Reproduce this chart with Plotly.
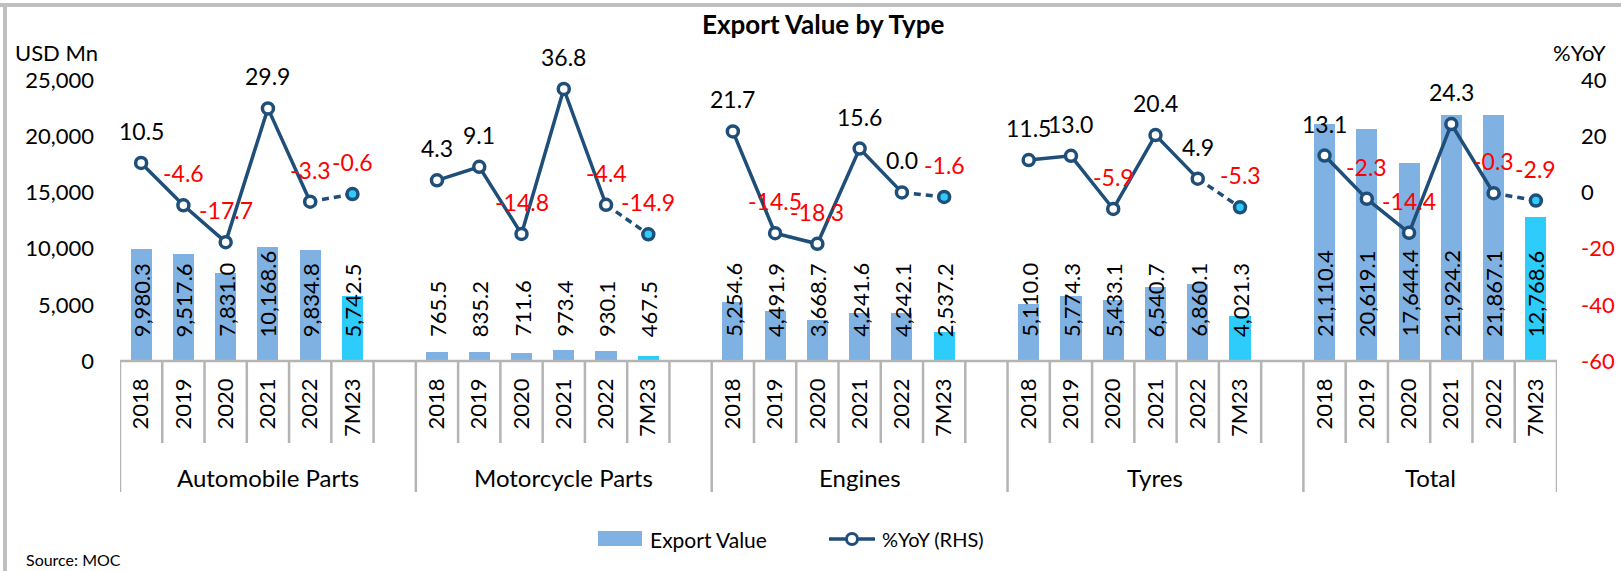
import plotly.graph_objects as go

# ---------------- data ----------------
groups = ["Automobile Parts", "Motorcycle Parts", "Engines", "Tyres", "Total"]
periods = ["2018", "2019", "2020", "2021", "2022", "7M23"]

auto_value = [9980.3, 9517.6, 7831.0, 10168.6, 9834.8, 5742.5]
moto_value = [765.5, 835.2, 711.6, 973.4, 930.1, 467.5]
engine_value = [5254.6, 4491.9, 3668.7, 4241.6, 4242.1, 2537.2]
tyre_value = [5110.0, 5774.3, 5433.1, 6540.7, 6860.1, 4021.3]
total_value = [21110.4, 20619.1, 17644.4, 21924.2, 21867.1, 12768.6]

auto_yoy = [10.5, -4.6, -17.7, 29.9, -3.3, -0.6]
moto_yoy = [4.3, 9.1, -14.8, 36.8, -4.4, -14.9]
engine_yoy = [21.7, -14.5, -18.3, 15.6, 0.0, -1.6]
tyre_yoy = [11.5, 13.0, -5.9, 20.4, 4.9, -5.3]
total_yoy = [13.1, -2.3, -14.4, 24.3, -0.3, -2.9]

export_values = [auto_value, moto_value, engine_value, tyre_value, total_value]
yoy_values = [auto_yoy, moto_yoy, engine_yoy, tyre_yoy, total_yoy]

left_ticks = [0, 5000, 10000, 15000, 20000, 25000]
right_ticks = [-60, -40, -20, 0, 20, 40]

# ---------------- styling / layout constants ----------------
FONT = "Lato, Carlito, 'Open Sans', sans-serif"
BAR_COLOR = "#80B1E3"
BAR_LAST = "#2DCCFB"
LINE_COLOR = "#1F4E79"
RED = "#FF0000"
FRAME_GRAY = "#BFBFBF"
SEP_GRAY = "#B4B4B4"

W, H = 1621, 571
L, R, T, B = 120, 1557, 80, 361  # plot area in pixels
SLOTS = 7  # 6 periods + one gap per group


def px(xp):
    return (xp - L) / (R - L)


def py(yp):
    return (B - yp) / (B - T)


# positions on the category axis
xs = []
for g in range(len(groups)):
    for i in range(len(periods)):
        xs.append(SLOTS * g + i)

bar_y = [v for grp in export_values for v in grp]
bar_colors = [BAR_LAST if i == len(periods) - 1 else BAR_COLOR
              for g in range(len(groups)) for i in range(len(periods))]
yoy_y = [v for grp in yoy_values for v in grp]

fig = go.Figure()

fig.add_trace(go.Bar(
    x=xs, y=bar_y, width=0.5, marker=dict(color=bar_colors, line=dict(width=0)),
    showlegend=False, hoverinfo="skip", yaxis="y"))

# solid line segments (2018-2022) and dashed segment to 7M23
sx, sy, dx, dy = [], [], [], []
for g in range(len(groups)):
    for i in range(5):
        sx.append(SLOTS * g + i)
        sy.append(yoy_values[g][i])
    sx.append(None); sy.append(None)
    dx += [SLOTS * g + 4, SLOTS * g + 5, None]
    dy += [yoy_values[g][4], yoy_values[g][5], None]

fig.add_trace(go.Scatter(x=sx, y=sy, mode="lines", yaxis="y2",
                         line=dict(color=LINE_COLOR, width=3.5),
                         showlegend=False, hoverinfo="skip"))
fig.add_trace(go.Scatter(x=dx, y=dy, mode="lines", yaxis="y2",
                         line=dict(color=LINE_COLOR, width=3.5, dash="7px,5px"),
                         showlegend=False, hoverinfo="skip"))
marker_fill = [BAR_LAST if i == len(periods) - 1 else "white"
               for g in range(len(groups)) for i in range(len(periods))]
fig.add_trace(go.Scatter(x=xs, y=yoy_y, mode="markers", yaxis="y2",
                         marker=dict(size=11, color=marker_fill,
                                     line=dict(color=LINE_COLOR, width=3.5)),
                         showlegend=False, hoverinfo="skip"))

annotations = []
# YoY labels
for x, v in zip(xs, yoy_y):
    annotations.append(dict(
        x=x, y=v, xref="x", yref="y2", text=f"{v:.1f}", showarrow=False,
        xanchor="center", yanchor="middle",
        yshift=32, font=dict(family=FONT, size=23, color="black" if v >= 0 else RED)))
# Bar value labels (rotated, inside base)
for x, v in zip(xs, bar_y):
    annotations.append(dict(
        x=x, y=0, xref="x", yref="y", text=f"{v:,.1f}", showarrow=False,
        textangle=-90, yanchor="bottom", xanchor="center", yshift=22,
        font=dict(family=FONT, size=22, color="black")))
# group labels
for g, name in enumerate(groups):
    n_in = SLOTS if g < len(groups) - 1 else len(periods)
    cx = SLOTS * g - 0.5 + n_in / 2
    annotations.append(dict(
        x=cx, y=py(477), xref="x", yref="paper", text=name, showarrow=False,
        xanchor="center", yanchor="middle",
        font=dict(family=FONT, size=24, color="black")))

# title and axis titles, source, legend texts
annotations += [
    dict(x=px(823), y=py(24), xref="paper", yref="paper", text="<b>Export Value by Type</b>",
         xanchor="center", yanchor="middle",
         showarrow=False, font=dict(family=FONT, size=26, color="black")),
    dict(x=px(13), y=py(53), xref="paper", yref="paper", text="USD Mn",
         xanchor="left", yanchor="middle",
         showarrow=False, font=dict(family=FONT, size=22, color="black")),
    dict(x=px(1608), y=py(53), xref="paper", yref="paper", text="%YoY",
         xanchor="right", yanchor="middle",
         showarrow=False, font=dict(family=FONT, size=22, color="black")),
    dict(x=px(24), y=py(559), xref="paper", yref="paper", text="Source: MOC",
         xanchor="left", yanchor="middle",
         showarrow=False, font=dict(family=FONT, size=16, color="black")),
    dict(x=px(648), y=py(539), xref="paper", yref="paper", text="Export Value",
         xanchor="left", yanchor="middle",
         showarrow=False, font=dict(family=FONT, size=21, color="black")),
    dict(x=px(880), y=py(539), xref="paper", yref="paper", text="%YoY (RHS)",
         xanchor="left", yanchor="middle",
         showarrow=False, font=dict(family=FONT, size=20, color="black")),
]

shapes = []
# frame (top and left)
shapes.append(dict(type="line", xref="paper", yref="paper", x0=px(0), x1=px(W),
                   y0=py(5), y1=py(5), line=dict(color=FRAME_GRAY, width=4)))
shapes.append(dict(type="line", xref="paper", yref="paper", x0=px(5), x1=px(5),
                   y0=py(5), y1=py(H), line=dict(color=FRAME_GRAY, width=4)))
# category separators
total_slots = SLOTS * (len(groups) - 1) + len(periods)
group_edges = {SLOTS * g for g in range(len(groups))} | {total_slots}
for j in range(total_slots + 1):
    long = j in group_edges
    shapes.append(dict(type="line", xref="x", yref="paper", x0=j - 0.5, x1=j - 0.5,
                       y0=0, y1=py(492) if long else py(443),
                       line=dict(color=SEP_GRAY, width=2.5)))
# x axis baseline
shapes.append(dict(type="line", xref="paper", yref="paper", x0=0, x1=1, y0=0, y1=0,
                   line=dict(color=SEP_GRAY, width=2.5)))
# legend symbols
shapes.append(dict(type="rect", xref="paper", yref="paper", x0=px(598), x1=px(642),
                   y0=py(546), y1=py(531), fillcolor=BAR_COLOR, line=dict(width=0)))
shapes.append(dict(type="line", xref="paper", yref="paper", x0=px(829), x1=px(875),
                   y0=py(539), y1=py(539), line=dict(color=LINE_COLOR, width=3.5)))
shapes.append(dict(type="circle", xref="paper", yref="paper", x0=px(846.5), x1=px(857.5),
                   y0=py(544.5), y1=py(533.5), fillcolor="white",
                   line=dict(color=LINE_COLOR, width=3)))

tick_vals = xs
tick_text = [p for g in range(len(groups)) for p in periods]
right_text = [f"<span style='color:{RED}'>{v}</span>" if v < 0 else str(v) for v in right_ticks]

fig.update_layout(
    width=W, height=H,
    margin=dict(l=L, r=W - R, t=T, b=H - B, pad=0, autoexpand=False),
    paper_bgcolor="white", plot_bgcolor="white",
    showlegend=False,
    bargap=0,
    xaxis=dict(range=[-0.5, total_slots - 0.5], tickvals=tick_vals, ticktext=tick_text,
               tickangle=-90, showgrid=False, zeroline=False, showline=False,
               ticks="", ticklabelstandoff=12, automargin=False,
               tickfont=dict(family=FONT, size=22, color="black")),
    yaxis=dict(range=[0, 25000], tickvals=left_ticks, tickformat=",", showgrid=False,
               zeroline=False, showline=False, ticks="", ticklabelstandoff=25,
               automargin=False,
               tickfont=dict(family=FONT, size=22, color="black")),
    yaxis2=dict(range=[-60, 40], overlaying="y", side="right", tickvals=right_ticks,
                ticktext=right_text, showgrid=False, zeroline=False, showline=False,
                ticks="", ticklabelstandoff=23, automargin=False,
                tickfont=dict(family=FONT, size=22, color="black")),
    annotations=annotations,
    shapes=shapes,
)

fig.write_html(
    "out.html",
    config={"displayModeBar": False},
    post_script="document.body.style.margin='0';document.body.style.overflow='hidden';",
)
